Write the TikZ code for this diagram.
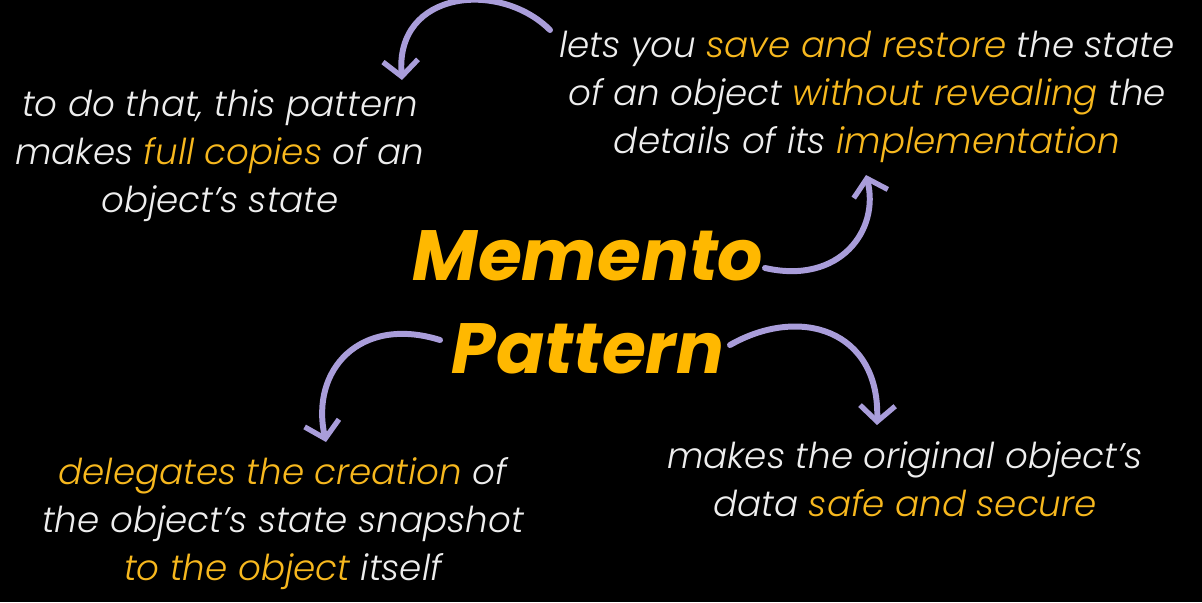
\documentclass[tikz,border=0pt]{standalone}
\usepackage{fontspec}
\setmainfont{Poppins}[ItalicFont={* Light Italic},BoldItalicFont={* Bold Italic}]
\usepackage{xcolor}
\usepackage{tikz}
\usetikzlibrary{arrows.meta}

\definecolor{hl}{HTML}{F7B81E}
\definecolor{ttl}{HTML}{FFB800}
\definecolor{txt}{HTML}{EEEEEE}
\definecolor{brush}{HTML}{A99DDA}
\newcommand{\hlt}[1]{\textcolor{hl}{#1}}

\tikzset{
  blurb/.style={text=txt, align=center, font=\fontsize{20.3}{27.3}\selectfont\itshape, inner sep=0pt},
  swoosh/.style={brush, line width=3.4pt, line cap=round, -{Straight Barb[length=9pt,width=20pt,line width=3pt]}}
}

\begin{document}
\begin{tikzpicture}[x=0.02cm, y=-0.02cm]
  \fill[black] (0,0) rectangle (1202,602);
  \useasboundingbox (0,0) rectangle (1202,602);

  % title
  \node[text=ttl, align=center, inner sep=0pt, font=\fontsize{40.5}{53}\selectfont\bfseries\itshape] (title) at (588,302) {Memento\\Pattern};

  % text blocks
  \node[blurb] (intro) at (867,97) {lets you \hlt{save and restore} the state\\of an object \hlt{without revealing} the\\details of its \hlt{implementation}};
  \node[blurb] (copies) at (220,156) {to do that, this pattern\\makes \hlt{full copies} of an\\object's state};
  \node[blurb] (deleg) at (283,524) {\hlt{delegates the creation} of\\the object's state snapshot\\\hlt{to the object} itself};
  \node[blurb] (secure) at (905,479) {makes the original object's\\data \hlt{safe and secure}};

  % arrow ends
  \coordinate (a1s) at (550,30);  \coordinate (a1e) at (402,80);
  \coordinate (a2s) at (765,268); \coordinate (a2e) at (866,175);
  \coordinate (a3s) at (440,340); \coordinate (a3e) at (326,442);
  \coordinate (a4s) at (730,345); \coordinate (a4e) at (877,425);

  % arrows
  \draw[swoosh] (a1s) .. controls (500,-20) and (395,-10) .. (a1e);
  \draw[swoosh] (a2s) .. controls (840,285) and (880,230) .. (a2e);
  \draw[swoosh] (a3s) .. controls (360,315) and (310,370) .. (a3e);
  \draw[swoosh] (a4s) .. controls (800,305) and (880,330) .. (a4e);
\end{tikzpicture}
\end{document}
